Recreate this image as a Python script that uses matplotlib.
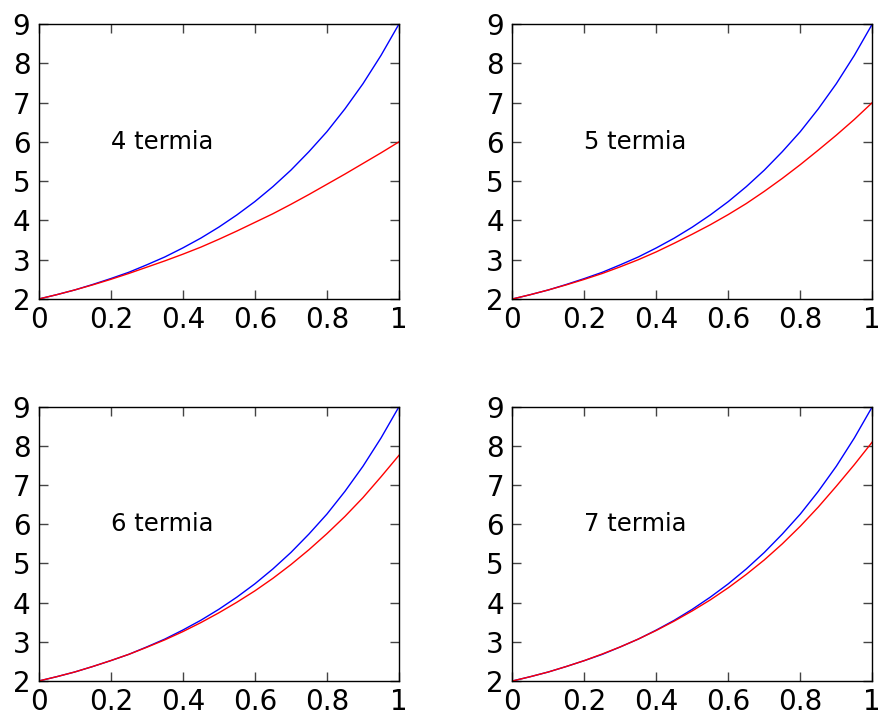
import matplotlib
matplotlib.use("Agg")
import matplotlib.pyplot as plt

x_vals = [0.00, 0.05, 0.10, 0.15, 0.20, 0.25, 0.30, 0.35, 0.40, 0.45, 0.50,
          0.55, 0.60, 0.65, 0.70, 0.75, 0.80, 0.85, 0.90, 0.95, 1.00]

# blue curve (same in every panel)
blue_vals = [2.00, 2.11, 2.23, 2.37, 2.52, 2.68, 2.87, 3.07, 3.30, 3.55, 3.83,
             4.14, 4.48, 4.86, 5.28, 5.75, 6.26, 6.84, 7.48, 8.20, 9.00]

# red approximations
red_4 = [2.00, 2.11, 2.23, 2.36, 2.50, 2.65, 2.81, 2.97, 3.14, 3.32, 3.52,
         3.73, 3.95, 4.17, 4.41, 4.66, 4.92, 5.18, 5.45, 5.72, 6.00]
red_5 = [2.00, 2.11, 2.23, 2.36, 2.50, 2.65, 2.82, 3.00, 3.20, 3.42, 3.65,
         3.89, 4.15, 4.43, 4.74, 5.07, 5.42, 5.79, 6.17, 6.57, 7.00]
red_6 = [2.00, 2.11, 2.23, 2.37, 2.52, 2.68, 2.86, 3.05, 3.26, 3.49, 3.74,
         4.01, 4.30, 4.62, 4.97, 5.35, 5.76, 6.20, 6.68, 7.21, 7.76]
red_7 = [2.00, 2.11, 2.23, 2.37, 2.52, 2.69, 2.87, 3.07, 3.29, 3.53, 3.79,
         4.07, 4.38, 4.72, 5.09, 5.50, 5.95, 6.44, 6.97, 7.52, 8.10]

panel_labels = ["4 termia", "5 termia", "6 termia", "7 termia"]
red_series = [red_4, red_5, red_6, red_7]

xticks = [0, 0.2, 0.4, 0.6, 0.8, 1.0]
xtick_labels = ["0", "0.2", "0.4", "0.6", "0.8", "1"]
yticks = [2, 3, 4, 5, 6, 7, 8, 9]
ytick_labels = ["2", "3", "4", "5", "6", "7", "8", "9"]

fig = plt.figure(figsize=(8.8, 7.11), dpi=100)
W, H = 880.0, 711.0
boxes = [
    (38.7, 24.0, 399.0, 299.0),
    (512.3, 24.0, 872.3, 299.0),
    (38.7, 406.7, 399.0, 681.0),
    (512.3, 406.7, 872.3, 681.0),
]

for (l, t, r, b), lab, red in zip(boxes, panel_labels, red_series):
    ax = fig.add_axes([l / W, (H - b) / H, (r - l) / W, (b - t) / H])
    ax.plot(x_vals, blue_vals, color="b", lw=1.0)
    ax.plot(x_vals, red, color="r", lw=1.0)
    ax.set_xlim(0, 1)
    ax.set_ylim(2, 9)
    ax.set_xticks(xticks)
    ax.set_xticklabels(xtick_labels)
    ax.set_yticks(yticks)
    ax.set_yticklabels(ytick_labels)
    ax.tick_params(direction="in", length=6.7, width=1.0, top=True, right=True,
                   labelsize=20, color="#444444")
    ax.tick_params(axis="x", pad=5)
    ax.tick_params(axis="y", pad=6)
    for sp in ax.spines.values():
        sp.set_linewidth(1.0)
    ax.text(0.2, 6.0, lab, fontsize=17.5, va="center", ha="left")

fig.savefig("out.png", dpi=100)
